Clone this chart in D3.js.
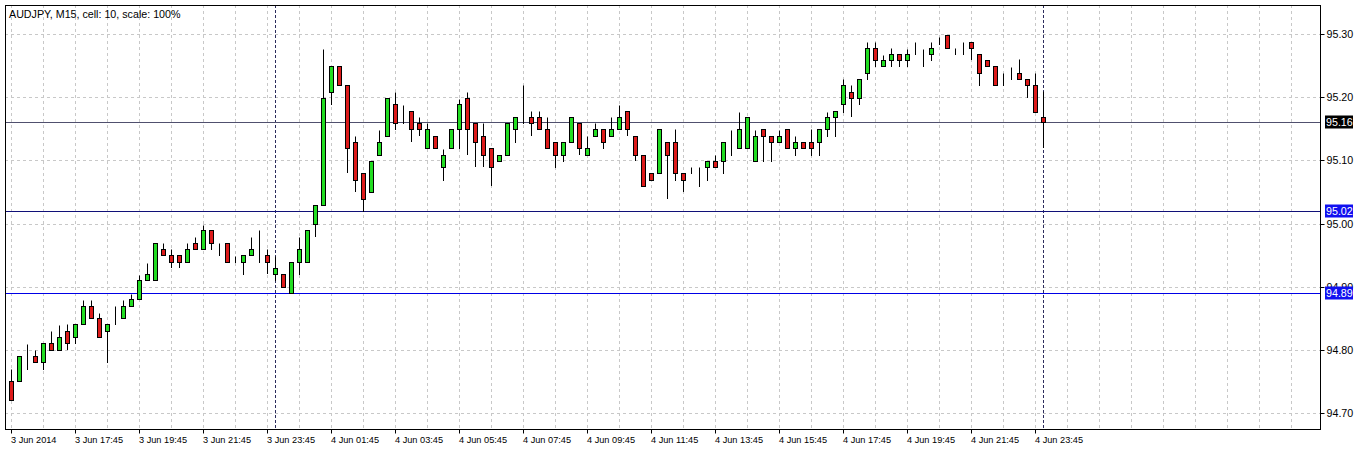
<!DOCTYPE html>
<html>
<head>
<meta charset="utf-8">
<script src="https://cdnjs.cloudflare.com/ajax/libs/d3/7.8.5/d3.min.js"></script>
<style>
  html, body { margin: 0; padding: 0; background: #fff; }
  svg { display: block; }
  text { font-family: "Liberation Sans", Arial, sans-serif; }
</style>
</head>
<body>
<svg id="chart" width="1366" height="450"></svg>
<script>
// ---------- DATA ----------
const title = "AUDJPY, M15, cell: 10, scale: 100%";

const open = [
94.751, 94.751, 94.800, 94.790, 94.781, 94.811, 94.800, 94.830, 94.820, 94.841,
94.870, 94.850, 94.830, 94.850, 94.850, 94.870, 94.881, 94.911, 94.911, 94.960,
94.950, 94.950, 94.939, 94.969, 94.960, 94.990, 94.969, 94.969, 94.939, 94.939,
94.950, 94.950, 94.950, 94.920, 94.920, 94.890, 94.939, 94.939, 94.999, 95.030,
95.208, 95.249, 95.219, 95.129, 95.080, 95.050, 95.108, 95.139, 95.189, 95.178,
95.178, 95.159, 95.120, 95.139, 95.089, 95.120, 95.150, 95.199, 95.159, 95.139,
95.120, 95.099, 95.108, 95.150, 95.159, 95.169, 95.169, 95.150, 95.129, 95.108,
95.129, 95.159, 95.108, 95.139, 95.150, 95.139, 95.150, 95.178, 95.139, 95.108,
95.080, 95.080, 95.129, 95.129, 95.080, 95.080, 95.089, 95.089, 95.099, 95.099,
95.129, 95.120, 95.120, 95.099, 95.150, 95.139, 95.129, 95.150, 95.120, 95.129,
95.129, 95.129, 95.150, 95.169, 95.189, 95.208, 95.199, 95.238, 95.278, 95.249,
95.259, 95.268, 95.259, 95.268, 95.268, 95.268, 95.290, 95.298, 95.278, 95.278,
95.288, 95.268, 95.259, 95.249, 95.238, 95.238, 95.238, 95.229, 95.219, 95.169
];
const high = [
94.770, 94.790, 94.810, 94.800, 94.811, 94.830, 94.840, 94.841, 94.841, 94.879,
94.879, 94.859, 94.841, 94.869, 94.879, 94.889, 94.919, 94.938, 94.969, 94.969,
94.960, 94.950, 94.969, 94.979, 94.998, 94.990, 94.969, 94.969, 94.949, 94.950,
94.979, 94.990, 94.960, 94.949, 94.920, 94.939, 94.979, 94.990, 95.029, 95.277,
95.249, 95.249, 95.219, 95.139, 95.080, 95.099, 95.148, 95.199, 95.208, 95.188,
95.178, 95.169, 95.159, 95.139, 95.118, 95.150, 95.197, 95.208, 95.159, 95.159,
95.120, 95.108, 95.159, 95.169, 95.220, 95.178, 95.178, 95.169, 95.129, 95.129,
95.169, 95.159, 95.139, 95.159, 95.150, 95.169, 95.188, 95.178, 95.139, 95.108,
95.080, 95.150, 95.129, 95.150, 95.080, 95.089, 95.089, 95.099, 95.108, 95.129,
95.148, 95.177, 95.169, 95.148, 95.150, 95.139, 95.148, 95.150, 95.139, 95.129,
95.150, 95.150, 95.177, 95.178, 95.228, 95.219, 95.229, 95.288, 95.288, 95.267,
95.278, 95.268, 95.277, 95.288, 95.277, 95.288, 95.296, 95.298, 95.278, 95.287,
95.288, 95.268, 95.259, 95.249, 95.238, 95.248, 95.260, 95.229, 95.238, 95.209
];
const low = [
94.721, 94.751, 94.769, 94.781, 94.769, 94.800, 94.800, 94.801, 94.811, 94.841,
94.850, 94.820, 94.781, 94.841, 94.850, 94.870, 94.881, 94.911, 94.911, 94.950,
94.931, 94.931, 94.939, 94.960, 94.960, 94.960, 94.950, 94.939, 94.939, 94.920,
94.950, 94.939, 94.922, 94.911, 94.900, 94.890, 94.920, 94.939, 94.980, 95.030,
95.189, 95.219, 95.082, 95.051, 95.020, 95.050, 95.108, 95.139, 95.150, 95.159,
95.130, 95.140, 95.120, 95.120, 95.069, 95.120, 95.120, 95.110, 95.091, 95.091,
95.061, 95.099, 95.108, 95.129, 95.159, 95.140, 95.150, 95.120, 95.089, 95.099,
95.129, 95.110, 95.108, 95.139, 95.120, 95.139, 95.150, 95.140, 95.100, 95.059,
95.069, 95.080, 95.040, 95.069, 95.051, 95.080, 95.059, 95.069, 95.089, 95.080,
95.108, 95.120, 95.120, 95.099, 95.099, 95.099, 95.129, 95.120, 95.108, 95.120,
95.108, 95.108, 95.139, 95.139, 95.177, 95.170, 95.189, 95.229, 95.250, 95.249,
95.249, 95.250, 95.249, 95.268, 95.249, 95.259, 95.284, 95.278, 95.268, 95.268,
95.260, 95.220, 95.249, 95.219, 95.219, 95.228, 95.229, 95.200, 95.177, 95.121
];
const close = [
94.721, 94.790, 94.800, 94.781, 94.811, 94.800, 94.820, 94.811, 94.841, 94.870,
94.850, 94.820, 94.841, 94.850, 94.870, 94.881, 94.911, 94.920, 94.969, 94.950,
94.939, 94.939, 94.960, 94.960, 94.990, 94.969, 94.969, 94.939, 94.939, 94.950,
94.960, 94.950, 94.939, 94.930, 94.900, 94.939, 94.960, 94.990, 95.029, 95.199,
95.249, 95.219, 95.120, 95.069, 95.039, 95.099, 95.129, 95.199, 95.159, 95.178,
95.150, 95.150, 95.150, 95.120, 95.108, 95.150, 95.189, 95.150, 95.129, 95.108,
95.089, 95.108, 95.159, 95.169, 95.159, 95.159, 95.150, 95.120, 95.108, 95.129,
95.169, 95.120, 95.120, 95.150, 95.129, 95.150, 95.169, 95.150, 95.108, 95.059,
95.069, 95.150, 95.108, 95.080, 95.069, 95.080, 95.089, 95.099, 95.089, 95.129,
95.129, 95.150, 95.169, 95.139, 95.139, 95.129, 95.139, 95.120, 95.129, 95.120,
95.120, 95.150, 95.169, 95.178, 95.219, 95.199, 95.229, 95.278, 95.259, 95.259,
95.268, 95.259, 95.268, 95.268, 95.268, 95.278, 95.290, 95.278, 95.278, 95.278,
95.278, 95.238, 95.249, 95.219, 95.238, 95.238, 95.229, 95.219, 95.177, 95.160
];

// x-axis tick labels, one per 8 bars (2 hours of M15 bars)
const xTickLabels = ["3 Jun 2014", "3 Jun 17:45", "3 Jun 19:45", "3 Jun 21:45", "3 Jun 23:45",
  "4 Jun 01:45", "4 Jun 03:45", "4 Jun 05:45", "4 Jun 07:45", "4 Jun 09:45", "4 Jun 11:45",
  "4 Jun 13:45", "4 Jun 15:45", "4 Jun 17:45", "4 Jun 19:45", "4 Jun 21:45", "4 Jun 23:45"];
const xTickBars = [0, 8, 16, 24, 32, 40, 48, 56, 64, 72, 80, 88, 96, 104, 112, 120, 128];
const daySeparatorBars = [33, 129];
const yTickValues = [94.70, 94.80, 94.90, 95.00, 95.10, 95.20, 95.30];
const bidPrice = 95.16;
const levelLines = [95.02, 94.89];
const levelColors = ["#101078", "#0000e6"];

// ---------- LAYOUT ----------
const W = 1366, H = 450;
const plot = { left: 5, right: 1320, top: 5, bottom: 429 };
const barSpacing = 8;          // px per bar (scale 100%)
const gridEveryBars = 4;
const bodyW = 4;

const svg = d3.select("#chart");
const x = d3.scaleLinear().domain([0, 1]).range([11.5, 11.5 + barSpacing]);
const y = d3.scaleLinear().domain([94.70, 95.30]).range([413.5, 34.5]);
const cy = v => Math.floor(y(v)) + 0.5;

const n = close.length;
const bars = d3.range(n).map(i => ({ i, o: open[i], h: high[i], l: low[i], c: close[i] }));

svg.append("rect").attr("x", 0).attr("y", 0).attr("width", W).attr("height", H).attr("fill", "#fff");

// vertical grid
const maxBar = Math.floor((plot.right - 11.5) / barSpacing);
const gridBars = d3.range(0, maxBar + 1, gridEveryBars).filter(b => x(b) < plot.right - 4);
svg.append("g").selectAll("line").data(gridBars).join("line")
  .attr("x1", d => Math.floor(x(d)) + 0.5).attr("x2", d => Math.floor(x(d)) + 0.5)
  .attr("y1", plot.top).attr("y2", plot.bottom)
  .attr("stroke", "#c8c8c8").attr("stroke-dasharray", "3,3");

// horizontal grid
svg.append("g").selectAll("line").data(yTickValues).join("line")
  .attr("x1", plot.left).attr("x2", plot.right)
  .attr("y1", d => cy(d)).attr("y2", d => cy(d))
  .attr("stroke", "#c8c8c8").attr("stroke-dasharray", "3,3");

// day separators
svg.append("g").selectAll("line").data(daySeparatorBars).join("line")
  .attr("x1", d => Math.floor(x(d)) + 0.5).attr("x2", d => Math.floor(x(d)) + 0.5)
  .attr("y1", plot.top).attr("y2", plot.bottom)
  .attr("stroke", "#2c2c5c").attr("stroke-dasharray", "3,2");

// level lines
svg.append("g").selectAll("line").data(levelLines).join("line")
  .attr("x1", plot.left).attr("x2", plot.right)
  .attr("y1", d => cy(d)).attr("y2", d => cy(d))
  .attr("stroke", (d, i) => levelColors[i]);
// bid line
svg.append("line").attr("x1", plot.left).attr("x2", plot.right)
  .attr("y1", cy(bidPrice)).attr("y2", cy(bidPrice)).attr("stroke", "#50506e");

// candles
const g = svg.append("g");
g.selectAll("line.wick").data(bars).join("line").attr("class", "wick")
  .attr("x1", d => Math.floor(x(d.i)) + 0.5).attr("x2", d => Math.floor(x(d.i)) + 0.5)
  .attr("y1", d => cy(d.h)).attr("y2", d => cy(d.l) + 0.5)
  .attr("stroke", "#000").attr("stroke-width", 1);
g.selectAll("rect.body").data(bars).join("rect").attr("class", "body")
  .attr("x", d => Math.floor(x(d.i)) + 0.5 - bodyW / 2)
  .attr("width", bodyW)
  .attr("y", d => cy(Math.max(d.o, d.c)))
  .attr("height", d => cy(Math.min(d.o, d.c)) - cy(Math.max(d.o, d.c)))
  .attr("fill", d => d.c > d.o ? "#22dd22" : (d.c < d.o ? "#dd1a1a" : "none"))
  .attr("stroke", "#000").attr("stroke-width", 1);

// frame
svg.append("rect").attr("x", plot.left + 0.5).attr("y", plot.top + 0.5)
  .attr("width", plot.right - plot.left).attr("height", plot.bottom - plot.top)
  .attr("fill", "none").attr("stroke", "#000");

// y axis
const yAxis = d3.axisRight(y).tickValues(yTickValues).tickSize(4).tickSizeOuter(0).tickPadding(2)
  .tickFormat(d3.format(".2f"));
const gy = svg.append("g").attr("transform", `translate(${plot.right + 0.5},0)`).call(yAxis);
gy.select(".domain").remove();
gy.selectAll(".tick").attr("transform", d => `translate(0,${cy(d)})`);
gy.selectAll(".tick text").attr("font-size", "10.7px").attr("fill", "#000")
  .attr("font-family", "'Liberation Sans', Arial, sans-serif");

// x axis
const xAxis = d3.axisBottom(x).tickValues(xTickBars).tickSize(4).tickSizeOuter(0)
  .tickFormat((d, i) => xTickLabels[i]);
const gx = svg.append("g").attr("transform", `translate(0,${plot.bottom + 0.5})`).call(xAxis);
gx.select(".domain").remove();
gx.selectAll(".tick").attr("transform", d => `translate(${Math.floor(x(d)) + 0.5},0)`);
gx.selectAll(".tick text").attr("text-anchor", "start").attr("x", -0.5).attr("y", 7)
  .attr("font-size", "9.2px").attr("fill", "#000")
  .attr("font-family", "'Liberation Sans', Arial, sans-serif");

// price labels (boxes)
function priceBox(v, bg) {
  const yy = cy(v);
  svg.append("rect").attr("x", plot.right + 5).attr("y", yy - 7).attr("width", 28).attr("height", 13).attr("fill", bg);
  svg.append("text").attr("x", plot.right + 6).attr("y", yy).attr("dy", "0.36em")
    .attr("font-size", "10.7px").attr("fill", "#fff").text(d3.format(".2f")(v));
}
levelLines.forEach(v => priceBox(v, "#1010f0"));
priceBox(bidPrice, "#000");

// title
svg.append("text").attr("x", 9).attr("y", 18).attr("font-size", "10.7px").attr("fill", "#000").text(title);
</script>
</body>
</html>
